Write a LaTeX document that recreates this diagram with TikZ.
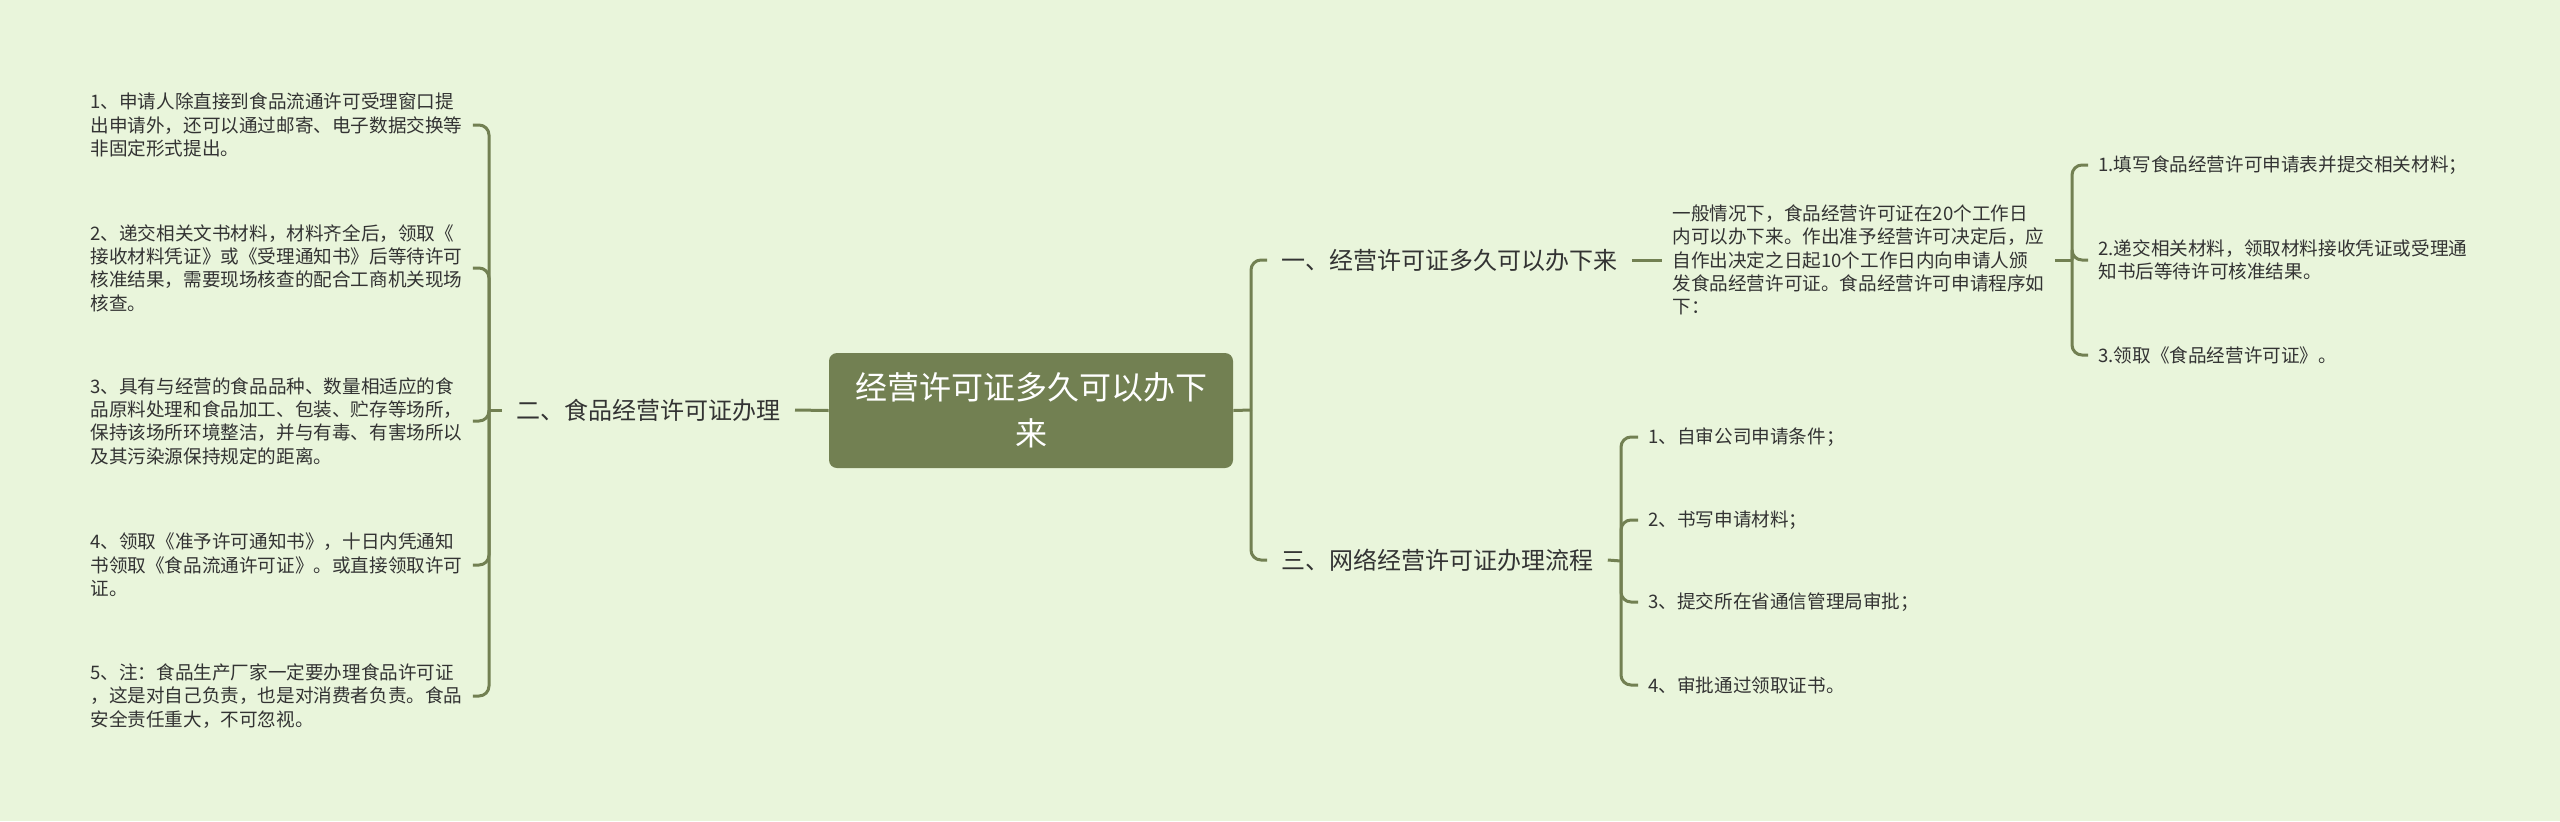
\documentclass[tikz,border=0pt]{standalone}
\usepackage{fontspec}
\setmainfont{Noto Sans CJK SC}
\usetikzlibrary{positioning}
\definecolor{bg}{HTML}{E9F5DB}
\definecolor{olive2}{HTML}{728052}
\definecolor{ink}{HTML}{333333}

\begin{document}
\begin{tikzpicture}[x=0.5pt,y=-0.5pt,
    every node/.style={text=ink,inner ysep=2pt},
    root/.style={fill=olive2,rounded corners=4pt,text=white,
                 font=\fontsize{16}{23}\selectfont,align=center,
                 minimum width=202pt,minimum height=57.5pt,inner sep=0pt},
    branch/.style={font=\fontsize{12}{15}\selectfont,inner xsep=7pt},
    leaf/.style={font=\fontsize{9.3}{11.7}\selectfont,align=left,inner xsep=5pt},
    link/.style={draw=olive2,line width=1.5pt,rounded corners=5pt},
  ]
  \fill[bg] (0,0) rectangle (2560,821);

  \node[root] (root) at (1031,410.5) {经营许可证多久可以办下\\来};

  % branches
  \node[branch,anchor=east] (b2) at (795,410) {二、食品经营许可证办理};
  \node[branch,anchor=west] (b1) at (1267,260) {一、经营许可证多久可以办下来};
  \node[branch,anchor=west] (b3) at (1267,560) {三、网络经营许可证办理流程};
  \coordinate (jl) at (489,410);
  \coordinate (jr) at (1251,410);

  % left leaves
  \node[leaf,anchor=west] (l1) at (80,125)
    {1、申请人除直接到食品流通许可受理窗口提\\出申请外，还可以通过邮寄、电子数据交换等\\非固定形式提出。};
  \node[leaf,anchor=west] (l2) at (80,268)
    {2、递交相关文书材料，材料齐全后，领取《\\接收材料凭证》或《受理通知书》后等待许可\\核准结果，需要现场核查的配合工商机关现场\\核查。};
  \node[leaf,anchor=west] (l3) at (80,421)
    {3、具有与经营的食品品种、数量相适应的食\\品原料处理和食品加工、包装、贮存等场所，\\保持该场所环境整洁，并与有毒、有害场所以\\及其污染源保持规定的距离。};
  \node[leaf,anchor=west] (l4) at (80,565)
    {4、领取《准予许可通知书》，十日内凭通知\\书领取《食品流通许可证》。或直接领取许可\\证。};
  \node[leaf,anchor=west] (l5) at (80,696)
    {5、注：食品生产厂家一定要办理食品许可证\\，这是对自己负责，也是对消费者负责。食品\\安全责任重大，不可忽视。};

  % first branch
  \node[leaf,anchor=west] (p1) at (1662,260)
    {一般情况下，食品经营许可证在20个工作日\\内可以办下来。作出准予经营许可决定后，应\\自作出决定之日起10个工作日内向申请人颁\\发食品经营许可证。食品经营许可申请程序如\\下：};
  \coordinate (jp) at (2072,260);
  \node[leaf,anchor=west] (r1) at (2088,165) {1.填写食品经营许可申请表并提交相关材料；};
  \node[leaf,anchor=west] (r2) at (2088,260) {2.递交相关材料，领取材料接收凭证或受理通\\知书后等待许可核准结果。};
  \node[leaf,anchor=west] (r3) at (2088,355) {3.领取《食品经营许可证》。};

  % third branch
  \coordinate (j3) at (1621,561);
  \node[leaf,anchor=west] (t1) at (1638,437) {1、自审公司申请条件；};
  \node[leaf,anchor=west] (t2) at (1638,520) {2、书写申请材料；};
  \node[leaf,anchor=west] (t3) at (1638,602) {3、提交所在省通信管理局审批；};
  \node[leaf,anchor=west] (t4) at (1638,685) {4、审批通过领取证书。};

  % connectors
  \draw[link] (root.west) -- (b2.east);
  \draw[link] (b2.west) -- (jl);
  \foreach \i in {1,...,5} \draw[link] (jl) |- (l\i.east);
  \draw[link] (root.east) -- (jr);
  \foreach \n in {b1,b3} \draw[link] (jr) |- (\n.west);
  \draw[link] (b1.east) -- (p1.west);
  \draw[link] (p1.east) -- (jp);
  \foreach \i in {1,2,3} \draw[link] (jp) |- (r\i.west);
  \draw[link] (b3.east) -- (j3);
  \foreach \i in {1,...,4} \draw[link] (j3) |- (t\i.west);
\end{tikzpicture}
\end{document}
